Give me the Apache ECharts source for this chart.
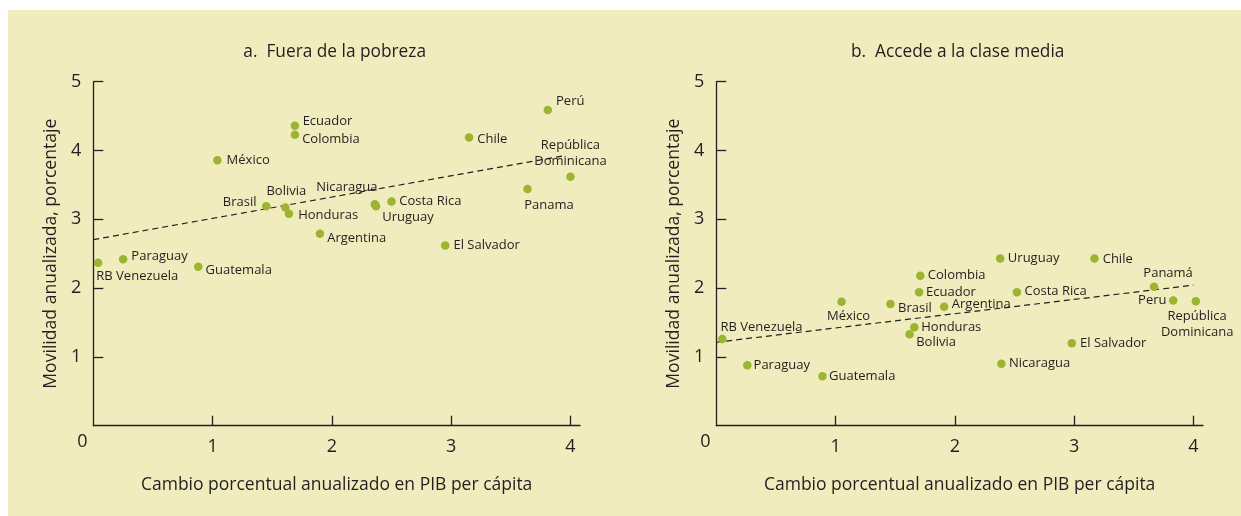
<!DOCTYPE html>
<html>
<head>
<meta charset="utf-8">
<script src="https://cdn.jsdelivr.net/npm/echarts@6/dist/echarts.min.js"></script>
<style>
  html, body { margin: 0; padding: 0; background: #ffffff; }
  #chart { width: 1241px; height: 516px; }
</style>
</head>
<body>
<div id="chart"></div>
<script>
// Panel a: leaving poverty
const countriesA = ['RB Venezuela', 'Paraguay', 'Guatemala', 'México', 'Ecuador', 'Colombia', 'Brasil', 'Bolivia',
  'Honduras', 'Argentina', 'Nicaragua', 'Uruguay', 'Costa Rica', 'El Salvador', 'Chile', 'Perú',
  'República\nDominicana', 'Panama'];
const gdpA = [0.04, 0.25, 0.88, 1.04, 1.69, 1.69, 1.45, 1.61, 1.64, 1.90, 2.36, 2.37, 2.50, 2.95, 3.15, 3.81, 4.00, 3.64];
const mobilityA = [2.37, 2.42, 2.31, 3.86, 4.36, 4.23, 3.19, 3.17, 3.08, 2.79, 3.22, 3.19, 3.26, 2.62, 4.19, 4.59, 3.62, 3.44];
const trendAx = [0, 3.95];
const trendAy = [2.705, 3.925];

// Panel b: entering the middle class
const countriesB = ['RB Venezuela', 'Paraguay', 'Guatemala', 'México', 'Brasil', 'Colombia', 'Ecuador', 'Argentina',
  'Honduras', 'Bolivia', 'Uruguay', 'Chile', 'Costa Rica', 'Panamá', 'Peru', 'República\nDominicana',
  'El Salvador', 'Nicaragua'];
const gdpB = [0.05, 0.26, 0.89, 1.05, 1.46, 1.71, 1.70, 1.91, 1.66, 1.62, 2.38, 3.17, 2.52, 3.67, 3.83, 4.02, 2.98, 2.39];
const mobilityB = [1.26, 0.88, 0.72, 1.80, 1.77, 2.18, 1.94, 1.73, 1.43, 1.33, 2.43, 2.43, 1.94, 2.02, 1.82, 1.81, 1.20, 0.90];
const trendBx = [0, 4.0];
const trendBy = [1.213, 2.043];

// Axis ticks and titles
const xTicks = [1, 2, 3, 4];
const yTicks = [1, 2, 3, 4, 5];
const panelTitles = ['a.  Fuera de la pobreza', 'b.  Accede a la clase media'];
const xAxisTitle = 'Cambio porcentual anualizado en PIB per cápita';
const yAxisTitle = 'Movilidad anualizada, porcentaje';

// Label placement per country: [position, dx, dy]
const placeA = {
  'RB Venezuela': ['right', -6, 14], 'Paraguay': ['right', 4, -3], 'Guatemala': ['right', 3, 4],
  'México': ['right', 5, 0], 'Ecuador': ['right', 3.5, -4], 'Colombia': ['right', 3, 5],
  'Brasil': ['left', -5.5, -4], 'Bolivia': ['top', 1, -4.5], 'Honduras': ['right', 5, 1.5],
  'Argentina': ['right', 3, 4.5], 'Nicaragua': ['top', -28, -5], 'Uruguay': ['right', 2, 11.5],
  'Costa Rica': ['right', 3.5, 0], 'El Salvador': ['right', 4, 0], 'Chile': ['right', 4, 1.5],
  'Perú': ['right', 4, -9], 'República\nDominicana': ['top', 0, -3], 'Panama': ['bottom', 21.5, 4]
};
const placeB = {
  'RB Venezuela': ['right', -6, -12], 'Paraguay': ['right', 2, 0], 'Guatemala': ['right', 2.3, 0],
  'México': ['bottom', 7, 2.3], 'Brasil': ['right', 3.4, 4], 'Colombia': ['right', 3.3, 0],
  'Ecuador': ['right', 2.7, 0], 'Argentina': ['right', 3.4, -2], 'Honduras': ['right', 2.7, 0],
  'Bolivia': ['right', 2.4, 8.2], 'Uruguay': ['right', 3.4, 0], 'Chile': ['right', 4, 1],
  'Costa Rica': ['right', 3.3, -1], 'Panamá': ['top', 14, -0.7], 'Peru': ['left', -2.4, 0],
  'República\nDominicana': ['bottom', 1.3, 3], 'El Salvador': ['right', 4, 0], 'Nicaragua': ['right', 3.3, 0]
};

const INK = '#231f20';
const DOT = '#9cb42f';
const FONT = '"Open Sans", "Noto Sans", sans-serif';

function points(names, xs, ys, place) {
  return names.map(function (n, i) {
    const p = place[n];
    return {
      name: n,
      value: [xs[i], ys[i]],
      label: { position: p[0], distance: 0, offset: [p[1], p[2]] }
    };
  });
}

function trend(xs, ys) {
  return xs.map(function (x, i) { return [x, ys[i]]; });
}

const gridLeft = [93.3, 716.3];
const gridW = 486.7;

function xAxisFor(i) {
  return {
    type: 'value', gridIndex: i, min: 0, max: 4.08,
    name: xAxisTitle, nameLocation: 'middle', nameGap: 50,
    nameTextStyle: { color: INK, fontSize: 17.5, fontFamily: FONT },
    axisLine: { show: true, onZero: false, lineStyle: { color: INK, width: 1.3 } },
    axisTick: { show: true, inside: true, length: 10, customValues: xTicks, lineStyle: { color: INK, width: 1.3 } },
    axisLabel: { customValues: xTicks, margin: 12, color: INK, fontSize: 18, fontFamily: FONT },
    splitLine: { show: false }
  };
}

function yAxisFor(i) {
  return {
    type: 'value', gridIndex: i, min: 0, max: 5, interval: 1,
    name: yAxisTitle, nameLocation: 'middle', nameGap: 33, nameRotate: 90,
    nameTextStyle: { color: INK, fontSize: 17.6, fontFamily: FONT },
    axisLine: { show: true, onZero: false, lineStyle: { color: INK, width: 1.3 } },
    axisTick: { show: true, inside: true, length: 10, customValues: yTicks, lineStyle: { color: INK, width: 1.3 } },
    axisLabel: { customValues: yTicks, margin: 12, color: INK, fontSize: 18, fontFamily: FONT },
    splitLine: { show: false }
  };
}

function scatterFor(i, data) {
  return {
    type: 'scatter', xAxisIndex: i, yAxisIndex: i, data: data,
    symbolSize: 8.5, itemStyle: { color: DOT, opacity: 1 },
    label: {
      show: true, formatter: '{b}', color: INK, fontSize: 13, lineHeight: 16,
      fontFamily: FONT
    },
    emphasis: { disabled: true }, z: 3
  };
}

function lineFor(i, data) {
  return {
    type: 'line', xAxisIndex: i, yAxisIndex: i, data: data,
    showSymbol: false, symbol: 'none',
    lineStyle: { color: INK, width: 1.2, type: [6, 4] },
    emphasis: { disabled: true }, z: 2, silent: true
  };
}

const chart = echarts.init(document.getElementById('chart'), null, { renderer: 'canvas' });

const option = {
  backgroundColor: '#ffffff',
  animation: false,
  textStyle: { fontFamily: FONT },
  grid: [
    { left: gridLeft[0], top: 81.7, width: gridW, height: 344 },
    { left: gridLeft[1], top: 81.7, width: gridW, height: 344 }
  ],
  xAxis: [xAxisFor(0), xAxisFor(1)],
  yAxis: [yAxisFor(0), yAxisFor(1)],
  series: [
    lineFor(0, trend(trendAx, trendAy)),
    scatterFor(0, points(countriesA, gdpA, mobilityA, placeA)),
    lineFor(1, trend(trendBx, trendBy)),
    scatterFor(1, points(countriesB, gdpB, mobilityB, placeB))
  ]
};
chart.setOption(option);

// Panel background, titles and the shared origin label "0"
const graphics = [{
  type: 'rect', silent: true, z: -10,
  shape: { x: 8, y: 10, width: 1241 - 8, height: 516 - 10 },
  style: { fill: '#f0ecbd' }
}];
[0, 1].forEach(function (i) {
  const origin = chart.convertToPixel({ gridIndex: i }, [0, 0]);
  const topRight = chart.convertToPixel({ gridIndex: i }, [4.08, 5]);
  graphics.push({
    type: 'text', silent: true,
    x: (origin[0] + topRight[0]) / 2 - 2, y: 52,
    style: { text: panelTitles[i], fill: INK, font: '17.3px ' + FONT, align: 'center', verticalAlign: 'middle' }
  });
  graphics.push({
    type: 'text', silent: true,
    x: origin[0] - 11, y: origin[1] + 16,
    style: { text: '0', fill: INK, font: '18px ' + FONT, align: 'center', verticalAlign: 'middle' }
  });
});
chart.setOption({ graphic: graphics });
</script>
</body>
</html>
